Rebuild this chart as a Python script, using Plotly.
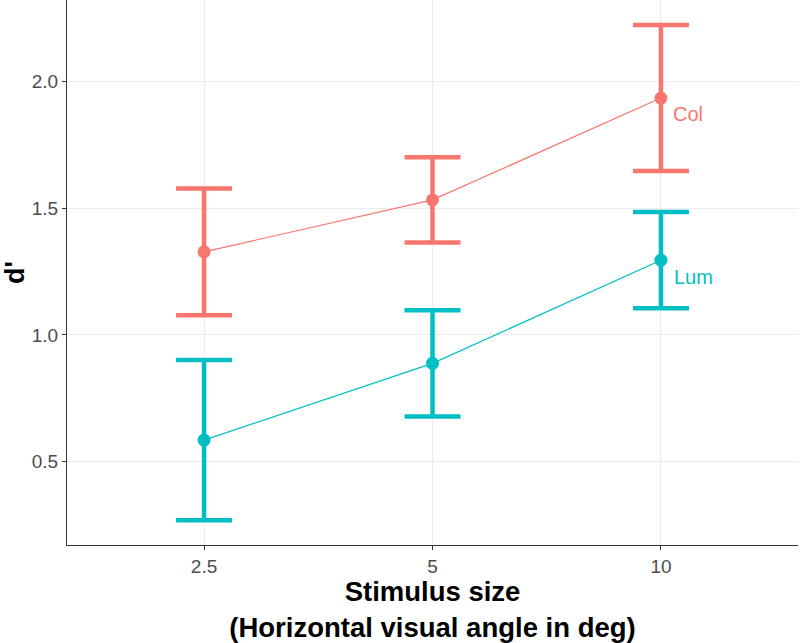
import plotly.graph_objects as go

sizes = ["2.5", "5", "10"]
col_mean = [1.328, 1.533, 1.935]
col_err = [0.250, 0.168, 0.288]
lum_mean = [0.585, 0.888, 1.295]
lum_err = [0.316, 0.210, 0.190]
series_names = ["Col", "Lum"]
colors = ["#F8766D", "#00BFC4"]
label_shift = [(10, -16), (11, -17)]

fig = go.Figure()
for name, mean, err, c, (dx, dy) in zip(series_names, [col_mean, lum_mean], [col_err, lum_err], colors, label_shift):
    fig.add_trace(go.Scatter(
        x=sizes, y=mean, mode="lines+markers", name=name,
        line=dict(color=c, width=1.2),
        marker=dict(color=c, size=13),
        error_y=dict(type="data", array=err, visible=True, color=c, thickness=4.5, width=28),
        showlegend=False,
    ))
    fig.add_annotation(x=len(sizes) - 1, y=mean[-1], xref="x", yref="y", text=name, showarrow=False,
                       xanchor="left", yanchor="middle", xshift=dx, yshift=dy,
                       font=dict(color=c, size=20, family="Liberation Sans, Arial"))

fig.update_layout(
    width=800, height=643,
    margin=dict(l=67, r=2, t=0, b=98),
    plot_bgcolor="white", paper_bgcolor="white",
    font=dict(family="Liberation Sans, Arial", color="#4d4d4d"),
)
fig.update_xaxes(
    type="category", range=[-0.6, 2.6], automargin=False,
    showline=True, linecolor="#333333", linewidth=1.2,
    showgrid=True, gridcolor="#ebebeb", gridwidth=1,
    ticks="outside", ticklen=4, tickcolor="#333333",
    tickfont=dict(size=19, color="#4d4d4d"),
    title=dict(text="<b>Stimulus size<br>(Horizontal visual angle in deg)</b>",
               font=dict(size=27.5, color="black"), standoff=0),
    zeroline=False,
)
fig.update_yaxes(
    range=[0.171, 2.322], automargin=False,
    tickvals=[0.5, 1.0, 1.5, 2.0], ticktext=["0.5", "1.0", "1.5", "2.0"],
    showline=True, linecolor="#333333", linewidth=1.2,
    showgrid=True, gridcolor="#ebebeb", gridwidth=1,
    ticks="outside", ticklen=4, tickcolor="#333333",
    tickfont=dict(size=19, color="#4d4d4d"),
    title=dict(text="<b>d'</b>", font=dict(size=27, color="black"), standoff=8),
    zeroline=False,
)
fig.write_html("out.html", config={"displayModeBar": False},
               post_script="document.body.style.margin='0';")
